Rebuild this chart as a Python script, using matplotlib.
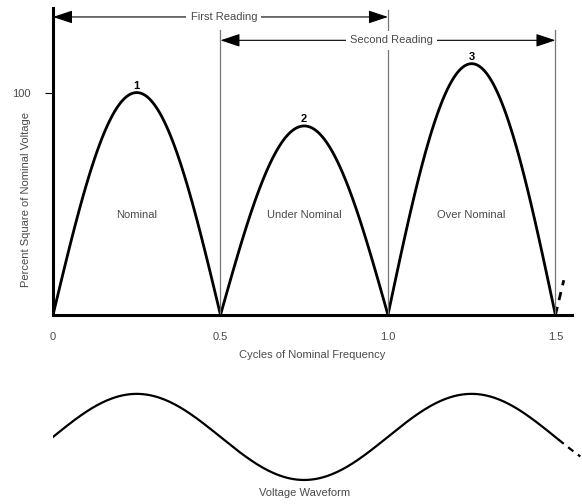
import numpy as np
import matplotlib.pyplot as plt

# segment edges (cycles) and peak of each half cycle, % square of nominal voltage
edges = [0.0, 0.5, 1.0, 1.5]
peaks = [100, 85, 113]
peak_ids = ["1", "2", "3"]
seg_names = ["Nominal", "Under Nominal", "Over Nominal"]
xticks = [0, 0.5, 1.0, 1.5]
xtick_labels = ["0", "0.5", "1.0", "1.5"]
yticks = [100]
next_end = 1.525      # dashed start of next half cycle
wave_end = 1.51       # solid part of the voltage waveform
wave_dash_end = 1.575

txt = "#4a4a4a"
plt.rcParams['font.family'] = ['Liberation Sans', 'DejaVu Sans']

fig = plt.figure(figsize=(5.82, 5.04), dpi=100)

# top panel: squared voltage humps
ax = fig.add_axes([0.0911, 0.375, 0.892, 0.609])
ax.set_xlim(0, 1.55)
ax.set_ylim(0, 138)

for i in range(3):
    x = np.linspace(edges[i], edges[i + 1], 120)
    y = peaks[i] * np.abs(np.sin(2 * np.pi * x))
    ax.plot(x, y, color="black", lw=2.0, solid_capstyle="round")
    mid = (edges[i] + edges[i + 1]) / 2
    ax.text(mid, peaks[i] + 0.8, peak_ids[i], ha="center", va="bottom",
            fontsize=8, fontweight="bold", color="black")
    ax.text(mid, 45, seg_names[i], ha="center", va="center", fontsize=8, color=txt)

xd = np.linspace(edges[-1], next_end, 20)
ax.plot(xd, peaks[0] * np.abs(np.sin(2 * np.pi * xd)), color="black", lw=2.0,
        dashes=(3, 2.5))

# reading boundaries
ax.plot([0.5, 0.5], [0, 128], color="#777777", lw=0.9)
ax.plot([1.0, 1.0], [0, 137], color="#777777", lw=0.9)
ax.plot([1.5, 1.5], [0, 128], color="#777777", lw=0.9)

arrow = dict(arrowstyle="-|>,head_length=1.2,head_width=0.4", color="black",
             lw=0.8, shrinkA=0, shrinkB=0)
for (x0, x1, yy, label, xc) in [(0.0, 1.0, 134, "First Reading", 0.51),
                                (0.5, 1.5, 123.5, "Second Reading", 1.01)]:
    ax.annotate("", xy=(x0, yy), xytext=(xc, yy), arrowprops=arrow)
    ax.annotate("", xy=(x1, yy), xytext=(xc, yy), arrowprops=arrow)
    ax.text(xc, yy, label, ha="center", va="center", fontsize=8, color=txt,
            bbox=dict(facecolor="white", edgecolor="none", pad=3))

for s in ["top", "right"]:
    ax.spines[s].set_visible(False)
ax.spines["left"].set_linewidth(2.2)
ax.spines["bottom"].set_linewidth(2.2)
ax.set_xticks(xticks)
ax.set_xticklabels(xtick_labels)
ax.set_yticks(yticks)
ax.tick_params(axis="x", length=0, pad=12, labelsize=8, labelcolor=txt)
ax.tick_params(axis="y", length=6, width=0.8, pad=10, labelsize=8, labelcolor=txt)
ax.set_xlabel("Cycles of Nominal Frequency", fontsize=8, color=txt, labelpad=6)
ax.set_ylabel("Percent Square of Nominal Voltage", fontsize=8, color=txt)
ax.yaxis.set_label_coords(-0.043, 0.375)

# bottom panel: voltage waveform
bx = fig.add_axes([0.0911, 0.0306, 0.9204, 0.205])
bx.set_xlim(0, 1.6)
bx.set_ylim(-1.2, 1.2)
xw = np.linspace(0, wave_end, 300)
bx.plot(xw, np.sin(2 * np.pi * xw), color="black", lw=1.6)
xw2 = np.linspace(wave_end, wave_dash_end, 20)
bx.plot(xw2, np.sin(2 * np.pi * xw2), color="black", lw=1.6, dashes=(3, 2.5))
bx.axis("off")
fig.text(0.524, 0.022, "Voltage Waveform", ha="center", va="center",
         fontsize=8, color=txt)

fig.savefig("out.png", dpi=100)
